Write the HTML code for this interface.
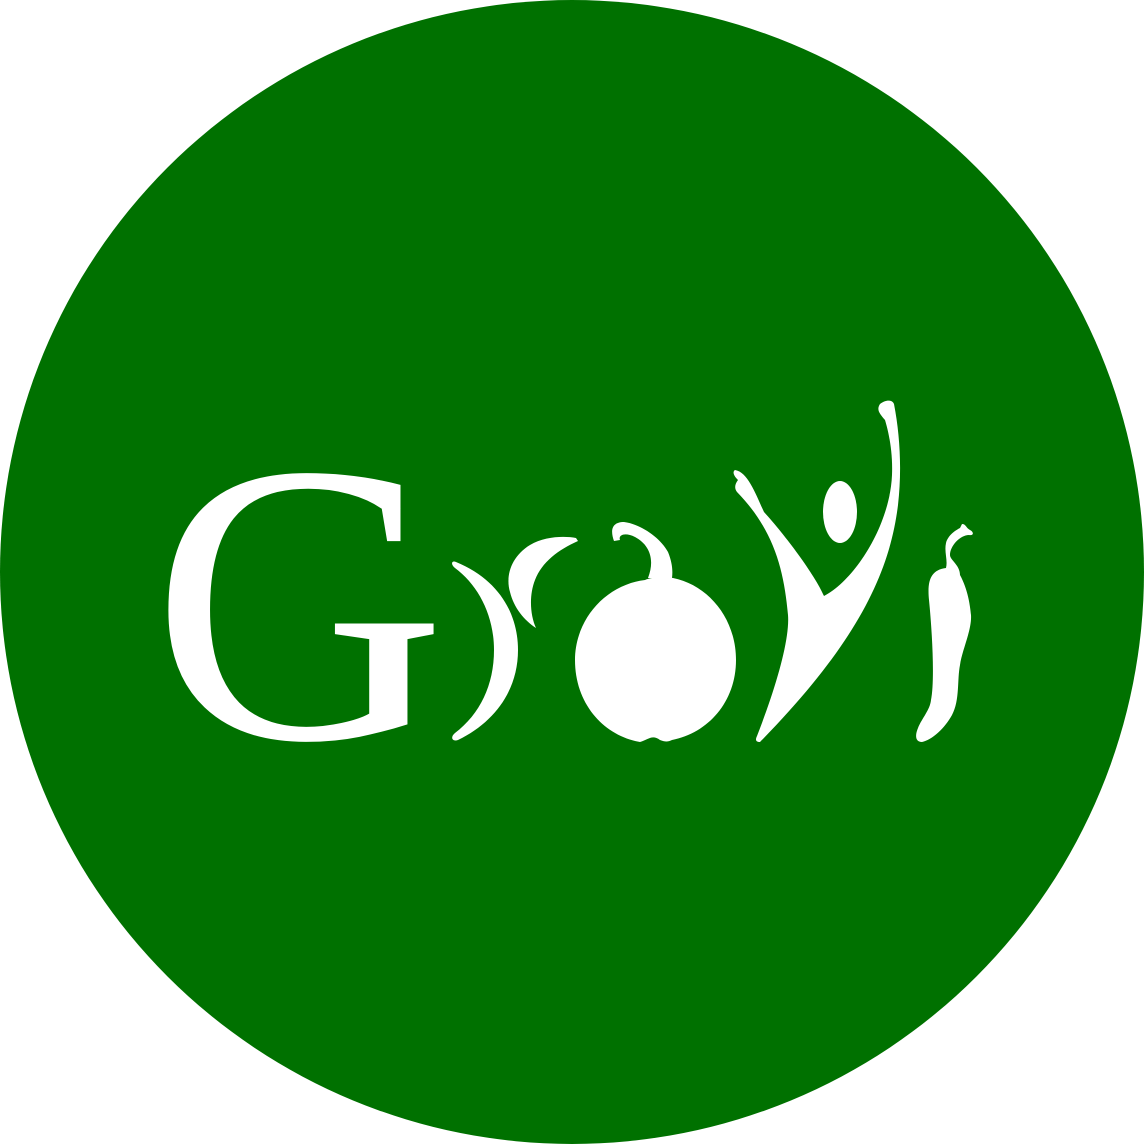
<!DOCTYPE html>
<html><head><meta charset="utf-8">
<style>
html,body{margin:0;padding:0;background:#fff;width:1144px;height:1145px;overflow:hidden}
svg{display:block}
</style></head>
<body>
<svg width="1144" height="1145" viewBox="0 0 1144 1145">
  <circle cx="572" cy="572" r="572" fill="#007100"/>
  <text x="152" y="738" font-family="'Liberation Serif', serif" font-size="400" fill="#fff" transform="translate(168,0) scale(1.02,1) translate(-168,0)">G</text>
  <path d="M456,562 C500,580 518,615 518,650 C518,690 495,722 458,740 C452,742 450,737 455,733 C480,714 494,685 494,650 C494,615 478,585 455,568 C450,564 452,560 456,562 Z" fill="#fff"/>
  <path d="M576,538 C565,536 545,536 530,545 C512,556 505,575 510,592 C514,608 524,620 536,628 C530,615 529,595 535,580 C542,562 558,550 578,541 Z" fill="#fff"/>
  <g>
    <path d="M645,580 C605,585 575,620 575,660 C575,705 605,736 640,742 C648,740 652,734 660,740 C665,742 668,742 672,740 C708,733 736,702 736,660 C736,618 708,585 673,578 C660,576 650,578 645,580 Z" fill="#fff"/>
    <path d="M648,578 C655,560 650,545 635,537 C625,532 618,535 620,540 L614,541 C610,530 612,522 624,522 C640,524 660,537 668,552 C672,562 673,570 672,578 Z" fill="#fff"/>
  </g>
  <g>
    <path d="M735,470 C748,472 756,495 764,512 C785,535 815,575 824,596 C855,580 890,525 892,475 C893,450 888,430 885,420 C880,414 876,410 880,404 C885,400 892,399 894,404 C900,435 902,470 898,505 C890,570 860,640 760,742 C756,742 755,740 757,736 C775,690 790,640 788,615 C784,570 774,530 737,492 C734,488 735,484 738,480 C734,476 732,472 735,470 Z" fill="#fff"/>
    <ellipse cx="840" cy="512" rx="17" ry="31" fill="#fff"/>
  </g>
  <path d="M962,524 C966,524 966,528 970,530 C974,532 974,536 969,535 C960,535 950,546 950,555 C950,560 960,565 960,575 C968,590 970,605 971,615 C972,630 962,650 960,665 C957,680 960,700 952,715 C945,728 932,740 922,742 C915,742 915,735 918,728 C922,718 930,710 931,700 C935,680 932,630 929,600 C927,580 931,570 946,568 C948,560 944,552 946,543 C948,535 956,530 960,528 Z" fill="#fff"/>
</svg>
</body></html>
